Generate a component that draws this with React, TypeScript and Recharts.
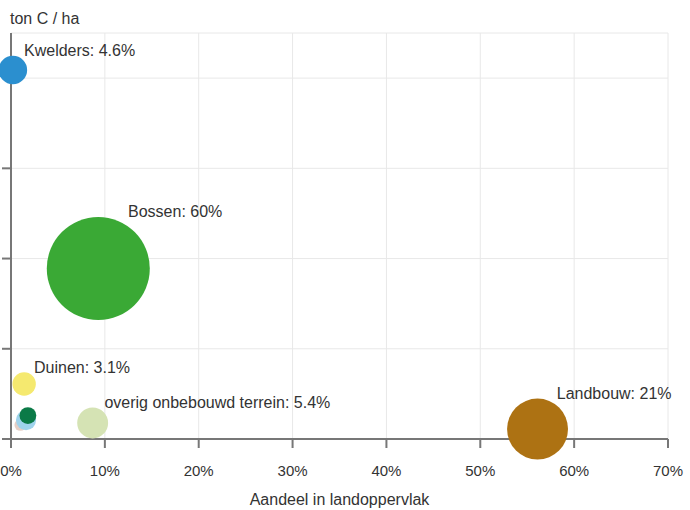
import React from 'react';
import { ScatterChart, Scatter, XAxis, YAxis, ZAxis, CartesianGrid } from 'recharts';

// Land-use categories (small unlabeled ones first so they sit behind)
const categories = ['Overig', 'Water', 'Heide', 'Kwelders', 'Duinen', 'overig onbebouwd terrein', 'Bossen', 'Landbouw'];
// Aandeel in landoppervlak (%)
const landShare = [1.0, 1.6, 1.8, 0.2, 1.4, 8.7, 9.3, 56.1];
// ton C / ha (values estimated; axis has no labels)
const carbonPerHa = [7.8, 10.5, 13, 204.5, 30.5, 8.9, 94.5, 5.5];
// share of total carbon stock (%) -> bubble area
const carbonShare = [0.8, 2.3, 1.6, 4.6, 3.1, 5.4, 60, 21];
const showLabel = [false, false, false, true, true, true, true, true];

const xTicks = [0, 10, 20, 30, 40, 50, 60, 70];
const yTicks = [0, 50, 100, 150, 200];

const colors = ['#e6cfc6', '#9fd3ec', '#0b7a47', '#2b8fcf', '#f5e96f', '#d5e3b4', '#3aa935', '#ad7213'];

const FONT = '"Liberation Sans", Arial, sans-serif';

const data = categories.map((name, i) => ({
  name,
  x: landShare[i],
  y: carbonPerHa[i],
  z: carbonShare[i],
  fill: colors[i],
  label: showLabel[i] ? `${name}: ${carbonShare[i]}%` : '',
}));

const Bubble = (props: any) => {
  const { cx, cy, payload } = props;
  const r = props.width ? props.width / 2 : Math.sqrt((props.size || 64) / Math.PI);
  return (
    <g>
      <circle cx={cx} cy={cy} r={r} fill={payload.fill} />
      {payload.label ? (
        <text x={cx + 0.5 * r + 4} y={cy - r + 0.5} fontSize={16} fontFamily={FONT} fill="#333">
          {payload.label}
        </text>
      ) : null}
    </g>
  );
};

const YTitle = () => (
  <text x={10} y={24} fontSize={16} fontFamily={FONT} fill="#333">
    ton C / ha
  </text>
);

const EmptyTick = () => <g />;

export default function App() {
  return (
    <div style={{ position: 'absolute', left: 0, top: 0, background: '#fff' }}>
      <ScatterChart width={690} height={510} margin={{ top: 33, right: 22, left: 0, bottom: 0 }}>
        <CartesianGrid stroke="#e8e8e8" strokeWidth={1} />
        <XAxis
          type="number"
          dataKey="x"
          domain={[0, 70]}
          ticks={xTicks}
          tickFormatter={(v: number) => `${v}%`}
          height={71}
          tickSize={9}
          tickMargin={17}
          stroke="#777"
          strokeWidth={2}
          tick={{ fill: '#333', fontSize: 15, fontFamily: FONT }}
          label={{
            value: 'Aandeel in landoppervlak',
            position: 'insideBottom',
            offset: 5,
            fill: '#333',
            fontSize: 16,
            fontFamily: FONT,
          }}
        />
        <YAxis
          type="number"
          dataKey="y"
          domain={[0, 225]}
          ticks={yTicks}
          width={11}
          tickSize={9}
          tick={<EmptyTick />}
          stroke="#777"
          strokeWidth={2}
          label={<YTitle />}
        />
        <ZAxis type="number" dataKey="z" domain={[0, 60]} range={[0, Math.PI * 51.5 * 51.5]} />
        <Scatter data={data} shape={<Bubble />} isAnimationActive={false} />
      </ScatterChart>
    </div>
  );
}
